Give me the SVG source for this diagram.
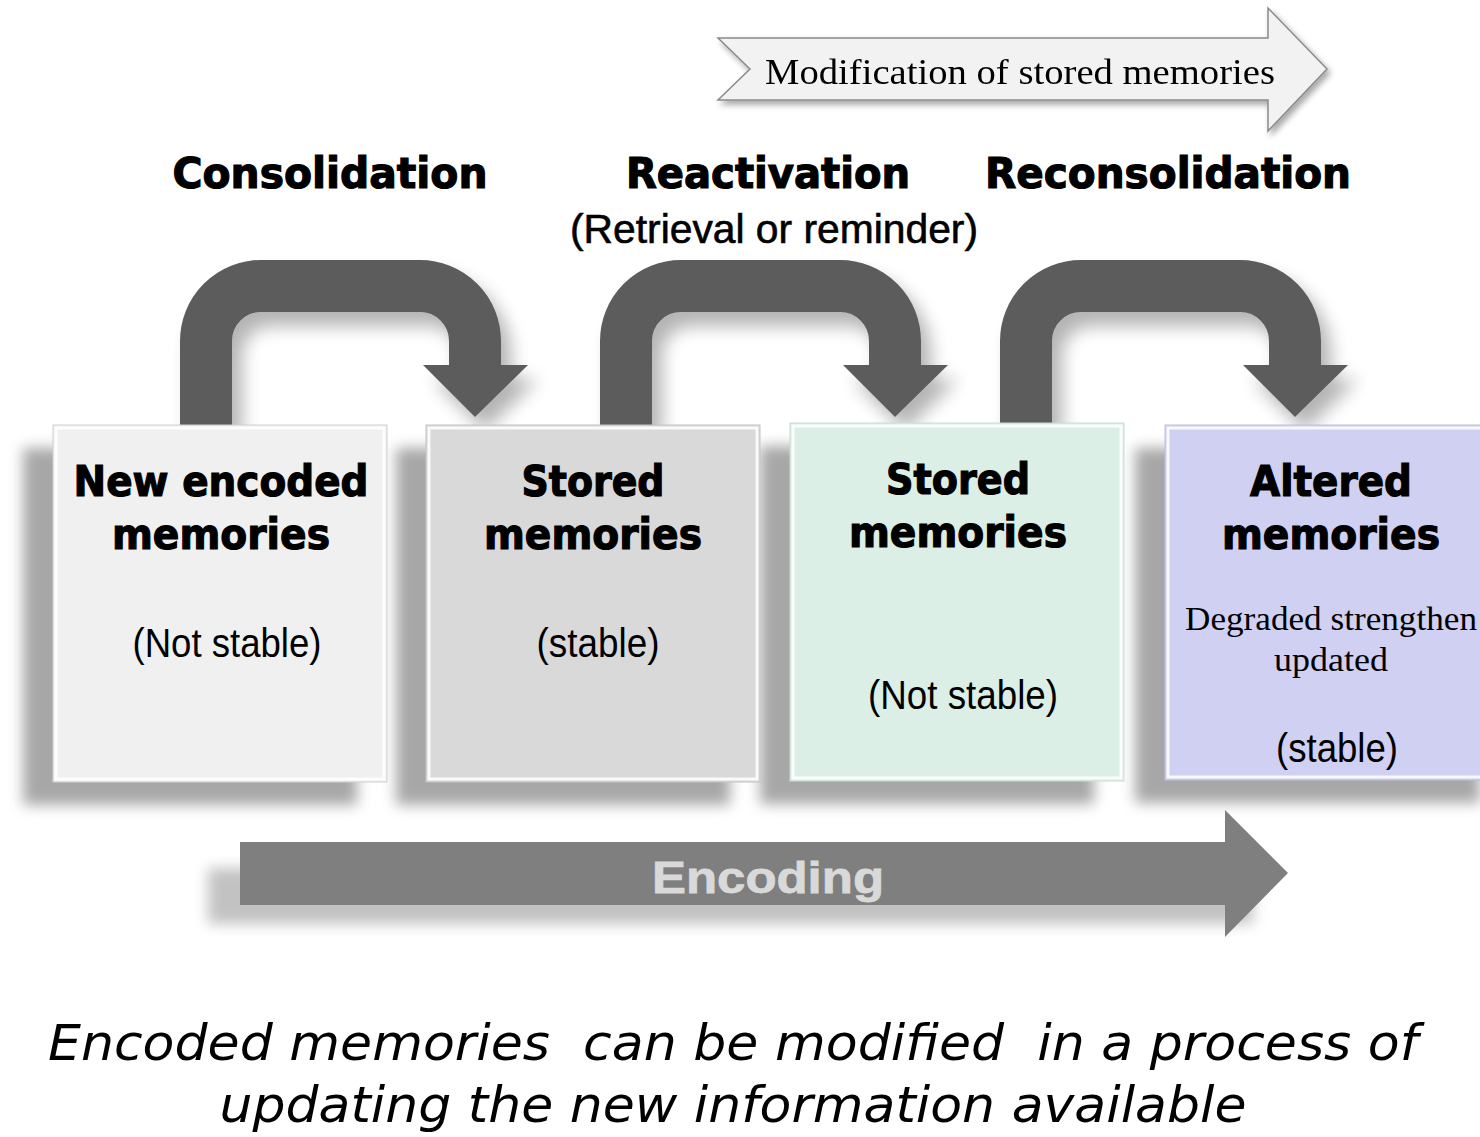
<svg xmlns="http://www.w3.org/2000/svg" width="1480" height="1137" viewBox="0 0 1480 1137">
<defs>
<style>
.head{font-family:"DejaVu Sans",sans-serif;font-weight:bold;font-size:42px;fill:#000;stroke:#000;stroke-width:1.2;text-anchor:middle}
.narrow{font-family:"Liberation Sans",sans-serif;font-size:40px;fill:#000;text-anchor:middle}
.serif{font-family:"Liberation Serif",serif;fill:#000;text-anchor:middle}
.bottom{font-family:"DejaVu Sans","Open Sans",sans-serif;font-style:italic;font-size:50px;fill:#000;text-anchor:middle}
.curve{fill:none;stroke:#5b5b5b;stroke-width:52}
.tip{fill:#5b5b5b}
.bevel{fill:none;stroke:#ffffff;stroke-width:3;opacity:0.85}
</style>
<filter id="boxShadow" x="-20%" y="-20%" width="140%" height="140%">
<feGaussianBlur stdDeviation="7"/>
</filter>
<filter id="arrowShadow" x="-30%" y="-30%" width="160%" height="160%">
<feGaussianBlur in="SourceAlpha" stdDeviation="9"/>
<feOffset dx="10" dy="14" result="b"/>
<feComponentTransfer><feFuncA type="linear" slope="0.3"/></feComponentTransfer>
<feMerge><feMergeNode/><feMergeNode in="SourceGraphic"/></feMerge>
</filter>
<filter id="smallShadow" x="-10%" y="-30%" width="120%" height="160%">
<feGaussianBlur in="SourceAlpha" stdDeviation="3"/>
<feOffset dx="3" dy="4"/>
<feComponentTransfer><feFuncA type="linear" slope="0.35"/></feComponentTransfer>
<feMerge><feMergeNode/><feMergeNode in="SourceGraphic"/></feMerge>
</filter>
<g id="uarrow">
<path class="curve" d="M206,425 V341 A55,55 0 0 1 261,286 H420 A55,55 0 0 1 475,341 V366"/>
<polygon class="tip" points="423,365 528,365 475,417"/>
</g>
</defs>
<rect width="1480" height="1137" fill="#ffffff"/>

<!-- top modification arrow -->
<g id="modification" filter="url(#smallShadow)">
<polygon points="718,38 1268,38 1268,8 1327,69 1268,131 1268,100 718,100 750,69" fill="#f2f2f2" stroke="#8a8a8a" stroke-width="1.5"/>
<text class="serif" x="1020" y="84" font-size="36" textLength="510" lengthAdjust="spacingAndGlyphs">Modification of stored memories</text>
</g>

<!-- stage labels -->
<g id="labels">
<text class="head" x="330" y="188" textLength="315" lengthAdjust="spacingAndGlyphs">Consolidation</text>
<text class="head" x="768" y="188" textLength="284" lengthAdjust="spacingAndGlyphs">Reactivation</text>
<text class="head" x="1168" y="188" textLength="366" lengthAdjust="spacingAndGlyphs">Reconsolidation</text>
<text class="narrow" x="774" y="243" stroke="#000" stroke-width="0.6" textLength="408" lengthAdjust="spacingAndGlyphs">(Retrieval or reminder)</text>
</g>

<!-- connectors -->
<g id="connectors" filter="url(#arrowShadow)">
<use href="#uarrow"/>
<use href="#uarrow" x="420"/>
<use href="#uarrow" x="820"/>
</g>

<!-- box shadows -->
<g id="shadows" fill="#8a8a8a" opacity="0.75" filter="url(#boxShadow)">
<rect x="23" y="448" width="334" height="357"/>
<rect x="396" y="448" width="334" height="357"/>
<rect x="760" y="446" width="334" height="358"/>
<rect x="1135" y="448" width="345" height="355"/>
</g>

<g id="box1">
<rect x="53" y="425" width="334" height="357" fill="#f0f0f0" stroke="#d0d0d0" stroke-width="1"/>
<rect class="bevel" x="56" y="428" width="328" height="351"/>
<text class="head" x="221" y="496" textLength="295" lengthAdjust="spacingAndGlyphs">New encoded</text>
<text class="head" x="221" y="549" textLength="218" lengthAdjust="spacingAndGlyphs">memories</text>
<text class="narrow" x="227" y="657" textLength="189" lengthAdjust="spacingAndGlyphs">(Not stable)</text>
</g>

<g id="box2">
<rect x="426" y="425" width="334" height="357" fill="#d9d9d9" stroke="#c4c4c4" stroke-width="1"/>
<rect class="bevel" x="429" y="428" width="328" height="351"/>
<text class="head" x="593" y="496" textLength="143" lengthAdjust="spacingAndGlyphs">Stored</text>
<text class="head" x="593" y="549" textLength="218" lengthAdjust="spacingAndGlyphs">memories</text>
<text class="narrow" x="598" y="657" textLength="123" lengthAdjust="spacingAndGlyphs">(stable)</text>
</g>

<g id="box3">
<rect x="790" y="423" width="334" height="358" fill="#dcefe7" stroke="#c8dcd4" stroke-width="1"/>
<rect class="bevel" x="793" y="426" width="328" height="352"/>
<text class="head" x="958" y="494" textLength="144" lengthAdjust="spacingAndGlyphs">Stored</text>
<text class="head" x="958" y="547" textLength="218" lengthAdjust="spacingAndGlyphs">memories</text>
<text class="narrow" x="963" y="709" textLength="190" lengthAdjust="spacingAndGlyphs">(Not stable)</text>
</g>

<g id="box4">
<rect x="1165" y="425" width="320" height="355" fill="#d0d0f2" stroke="#bdbde0" stroke-width="1"/>
<rect class="bevel" x="1168" y="428" width="320" height="349"/>
<text class="head" x="1331" y="496" textLength="162" lengthAdjust="spacingAndGlyphs">Altered</text>
<text class="head" x="1331" y="549" textLength="218" lengthAdjust="spacingAndGlyphs">memories</text>
<text class="serif" x="1331" y="630" font-size="34" textLength="292" lengthAdjust="spacingAndGlyphs">Degraded strengthen</text>
<text class="serif" x="1331" y="671" font-size="34" textLength="114" lengthAdjust="spacingAndGlyphs">updated</text>
<text class="narrow" x="1337" y="762" textLength="122" lengthAdjust="spacingAndGlyphs">(stable)</text>
</g>

<!-- encoding arrow -->
<g id="encoding">
<rect x="208" y="868" width="1045" height="56" fill="#9a9a9a" opacity="0.6" filter="url(#boxShadow)"/>
<polygon points="240,842 1225,842 1225,810 1288,873 1225,937 1225,905 240,905" fill="#7f7f7f"/>
<text x="768" y="893" font-family="Liberation Sans,sans-serif" font-weight="bold" font-size="44" fill="#d9d9d9" stroke="#d9d9d9" stroke-width="0.8" text-anchor="middle" textLength="232" lengthAdjust="spacingAndGlyphs">Encoding</text>
</g>

<g id="caption">
<text class="bottom" x="733" y="1060" textLength="1370" lengthAdjust="spacingAndGlyphs" xml:space="preserve">Encoded memories  can be modified  in a process of</text>
<text class="bottom" x="733" y="1122" textLength="1027" lengthAdjust="spacingAndGlyphs">updating the new information available</text>
</g>
</svg>
